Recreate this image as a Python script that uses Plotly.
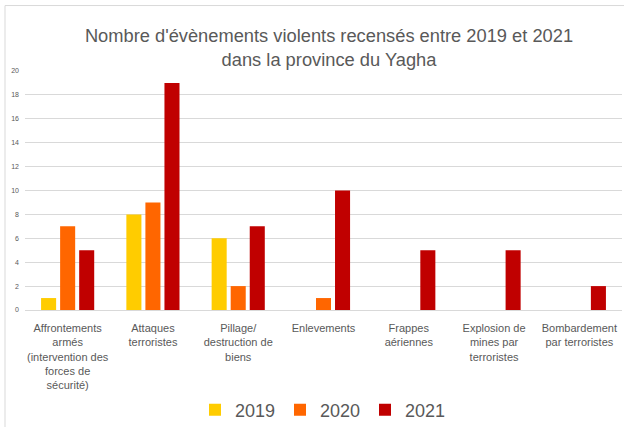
import plotly.graph_objects as go

categories = [
    "Affrontements<br>armés<br>(intervention des<br>forces de<br>sécurité)",
    "Attaques<br>terroristes",
    "Pillage/<br>destruction de<br>biens",
    "Enlevements",
    "Frappes<br>aériennes",
    "Explosion de<br>mines par<br>terroristes",
    "Bombardement<br>par terroristes",
]
years = ["2019", "2020", "2021"]
values_2019 = [1, 8, 6, 0, 0, 0, 0]
values_2020 = [7, 9, 2, 1, 0, 0, 0]
values_2021 = [5, 19, 7, 10, 5, 5, 2]
colors = ["#FFCC00", "#FF6600", "#C00000"]
y_ticks = list(range(0, 21, 2))

W, H = 624, 430
ML, MR, MT, MB = 25, 2, 71, 118
PW, PH = W - ML - MR, H - MT - MB

fig = go.Figure()
for name, vals, col in zip(years, [values_2019, values_2020, values_2021], colors):
    fig.add_trace(go.Bar(x=categories, y=vals, name=name,
                         marker=dict(color=col, line=dict(width=0))))

font_family = "Liberation Sans, Arial, sans-serif"
grey = "#595959"

def px_x(p):
    return (p - ML) / PW

def px_y(p):
    return (H - MB - p) / PH

fig.update_layout(
    width=W, height=H,
    margin=dict(l=ML, r=MR, t=MT, b=MB),
    paper_bgcolor="white", plot_bgcolor="white",
    barmode="group", bargap=0.33, bargroupgap=0.21,
    font=dict(family=font_family, color=grey),
    title=dict(
        text="Nombre d'évènements violents recensés entre 2019 et 2021<br>dans la province du Yagha",
        x=329 / W, xref="container", xanchor="center",
        y=1 - 42 / H, yref="container", yanchor="top",
        font=dict(size=18.3, color=grey, family=font_family),
    ),
    xaxis=dict(showgrid=False, showline=False, ticks="",
               tickfont=dict(size=11, color=grey), ticklabelstandoff=10),
    yaxis=dict(range=[0, 20], tickvals=y_ticks, showgrid=True,
               gridcolor="#d9d9d9", gridwidth=1, zeroline=True,
               zerolinecolor="#d9d9d9", zerolinewidth=1, showline=False,
               tickfont=dict(size=7, color=grey), ticks="", ticklabelstandoff=5),
    legend=dict(orientation="h", x=px_x(195), xanchor="left",
                y=px_y(413), yanchor="middle", entrywidth=40,
                entrywidthmode="pixels",
                font=dict(size=18, color=grey), itemsizing="constant"),
    shapes=[
        dict(type="line", xref="paper", yref="paper",
             x0=px_x(5), x1=px_x(5), y0=px_y(5), y1=px_y(H),
             line=dict(color="#d9d9d9", width=1)),
        dict(type="line", xref="paper", yref="paper",
             x0=px_x(5), x1=px_x(W), y0=px_y(5), y1=px_y(5),
             line=dict(color="#d9d9d9", width=1)),
    ],
)

fig.write_html("out.html")
